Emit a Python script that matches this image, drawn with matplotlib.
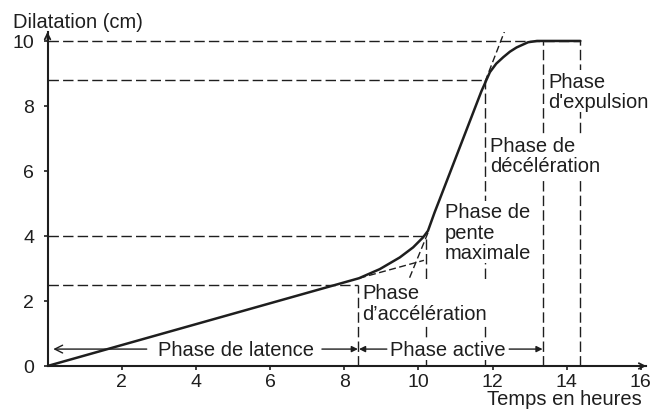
import matplotlib
matplotlib.use("Agg")
import matplotlib.pyplot as plt

plt.rcParams['font.family'] = ['Liberation Sans', 'DejaVu Sans']

# Friedman curve (hours, cm)
temps = [0, 8.4, 8.96, 9.5, 9.86, 10.13, 10.26, 10.44, 10.58, 11.7, 11.93,
         12.1, 12.29, 12.47, 12.65, 12.96, 13.2, 14.37]
dilatation = [0, 2.7, 2.98, 3.34, 3.65, 3.96, 4.16, 4.73, 5.14, 8.45, 9.04,
              9.3, 9.5, 9.67, 9.8, 9.96, 10.0, 10.0]

# reference levels (dashed guides)
niveaux = [2.5, 4, 8.8, 10]
niveaux_fin = [8.37, 10.22, 11.8, 14.37]
limites = [8.37, 10.22, 11.8, 13.37, 14.37]
limites_haut = [2.5, 4, 8.8, 10, 10]

# tangent construction lines
tangente_latence = ([8.4, 10.15], [2.7, 3.25])
tangente_pente_bas = ([10.26, 9.73], [4.1, 2.62])
tangente_pente_haut = ([11.8, 12.35], [8.75, 10.37])

ink = '#1e1e1e'
fs = 14.5

fig = plt.figure(figsize=(6.61, 4.10), dpi=100)
ax = fig.add_axes([0.0719, 0.1049, 0.906, 0.815])
ax.set_xlim(0, 16.15)
ax.set_ylim(0, 10.28)

for lvl, end in zip(niveaux, niveaux_fin):
    ax.plot([0, end], [lvl, lvl], color=ink, lw=1.0, dashes=(7.5, 3))
for xv, top in zip(limites, limites_haut):
    ax.plot([xv, xv], [0, top], color=ink, lw=1.0, dashes=(7.5, 3))

for tx, ty in (tangente_latence, tangente_pente_bas, tangente_pente_haut):
    ax.plot(tx, ty, color=ink, lw=1.0, dashes=(5, 2.5))

ax.plot(temps, dilatation, color=ink, lw=1.8, solid_joinstyle='round',
        solid_capstyle='round', zorder=3)

box = dict(facecolor='white', edgecolor='none', pad=1)
labels = [
    (10.71, 4.12, "Phase de\npente\nmaximale"),
    (11.93, 6.48, "Phase de\ndécélération"),
    (13.5, 8.45, "Phase\nd'expulsion"),
    (8.48, 1.94, "Phase\nd\u2019accélération"),
]
for x, y, s in labels:
    ax.text(x, y, s, fontsize=fs, color=ink, ha='left', va='center',
            linespacing=1.1, bbox=box, zorder=4)

# phase arrows along the bottom
ya = 0.52
ax.text(5.09, ya, "Phase de latence", fontsize=fs, color=ink, ha='center',
        va='center', bbox=box, zorder=4)
ax.text(10.8, ya, "Phase active", fontsize=fs, color=ink, ha='center',
        va='center', bbox=box, zorder=4)
ax.annotate('', xy=(0.08, ya), xytext=(2.75, ya),
            arrowprops=dict(arrowstyle='->', lw=1.0, color=ink, mutation_scale=14))
for start, end in [(7.4, 8.37), (9.15, 8.4), (12.45, 13.35)]:
    ax.annotate('', xy=(end, ya), xytext=(start, ya),
                arrowprops=dict(arrowstyle='-|>', lw=1.0, color=ink,
                                mutation_scale=9, shrinkA=0, shrinkB=0))

# axes with arrowheads
for side in ['top', 'right']:
    ax.spines[side].set_visible(False)
for side in ['left', 'bottom']:
    ax.spines[side].set_linewidth(1.5)
    ax.spines[side].set_color(ink)
ax.annotate('', xy=(16.15, 0), xytext=(15.8, 0), annotation_clip=False,
            arrowprops=dict(arrowstyle='->', lw=1.3, color=ink, shrinkA=0, shrinkB=0))
ax.annotate('', xy=(0, 10.28), xytext=(0, 10.0), annotation_clip=False,
            arrowprops=dict(arrowstyle='->', lw=1.3, color=ink, shrinkA=0, shrinkB=0))

ax.set_xticks([2, 4, 6, 8, 10, 12, 14, 16])
ax.set_yticks([0, 2, 4, 6, 8, 10])
ax.tick_params(direction='out', length=3, width=1.2, color=ink,
               labelcolor=ink, labelsize=14)
ax.tick_params(axis='y', pad=6.5)
ax.tick_params(axis='x', pad=2.0)

fig.text(13 / 661, 1 - 22 / 410, "Dilatation (cm)", fontsize=fs, color=ink,
         ha='left', va='center')
fig.text(642 / 661, 1 - 405 / 410, "Temps en heures", fontsize=fs, color=ink,
         ha='right', va='baseline')

fig.savefig('out.png', dpi=100)
